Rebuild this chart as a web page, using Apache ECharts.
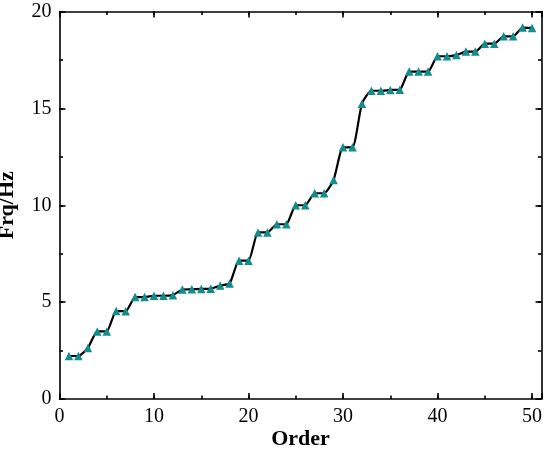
<!DOCTYPE html>
<html><head><meta charset="utf-8">
<script src="https://cdn.jsdelivr.net/npm/echarts@6/dist/echarts.min.js"></script>
<style>html,body{margin:0;padding:0;background:#fff}#c{width:550px;height:452px}</style>
</head><body><div id="c"></div>
<script>
const orders = [1,2,3,4,5,6,7,8,9,10,11,12,13,14,15,16,17,18,19,20,21,22,23,24,25,26,27,28,29,30,31,32,33,34,35,36,37,38,39,40,41,42,43,44,45,46,47,48,49,50];
const freqs = [2.22,2.22,2.63,3.49,3.49,4.54,4.53,5.26,5.26,5.33,5.33,5.36,5.65,5.66,5.68,5.69,5.86,5.96,7.14,7.14,8.60,8.60,9.02,9.02,10.0,10.0,10.62,10.62,11.3,12.99,12.99,15.24,15.91,15.91,15.95,15.96,16.9,16.9,16.9,17.69,17.69,17.75,17.93,17.93,18.34,18.34,18.72,18.72,19.17,19.15];
const xTickLabels = [0,10,20,30,40,50];
const yTickLabels = [0,5,10,15,20];

const font = 'Liberation Serif';
const gridBox = {left: 59.5, right: 8.5, top: 11.5, bottom: 53, containLabel: false, outerBoundsMode: 'none'};
const lineStyle = {color: '#000', width: 1.6};
function xAx(gi, pos, interval, len, withLabels, showLine) {
  return {
    type: 'value', gridIndex: gi, position: pos, min: 0, max: 51, interval: interval,
    axisLine: {show: showLine, onZero: false, lineStyle: lineStyle},
    axisTick: {show: true, inside: true, length: len, lineStyle: lineStyle},
    splitLine: {show: false},
    axisLabel: {show: withLabels, color: '#000', fontFamily: font, fontSize: 20, margin: 8,
      formatter: v => xTickLabels.indexOf(v) >= 0 ? String(v) : ''},
    name: withLabels ? 'Order' : '', nameLocation: 'middle', nameGap: 29, nameMoveOverlap: false,
    nameTextStyle: {color: '#000', fontFamily: font, fontSize: 22, fontWeight: 'bold'}
  };
}
function yAx(gi, pos, interval, len, withLabels, showLine) {
  return {
    type: 'value', gridIndex: gi, position: pos, min: 0, max: 20, interval: interval,
    axisLine: {show: showLine, onZero: false, lineStyle: lineStyle},
    axisTick: {show: true, inside: true, length: len, lineStyle: lineStyle},
    splitLine: {show: false},
    axisLabel: {show: withLabels, color: '#000', fontFamily: font, fontSize: 20, margin: 8,
      formatter: v => yTickLabels.indexOf(v) >= 0 ? String(v) : ''},
    name: withLabels ? 'Frq/Hz' : '', nameLocation: 'middle', nameGap: 41, nameMoveOverlap: false,
    nameTextStyle: {color: '#000', fontFamily: font, fontSize: 22, fontWeight: 'bold'}
  };
}
const chart = echarts.init(document.getElementById('c'), null, {renderer: 'canvas'});
chart.setOption({
  animation: false,
  backgroundColor: '#fff',
  grid: [Object.assign({}, gridBox), Object.assign({}, gridBox)],
  xAxis: [
    xAx(0, 'bottom', 10, 6, true, true),
    xAx(0, 'top', 10, 6, false, true),
    xAx(1, 'bottom', 5, 3.5, false, false),
    xAx(1, 'top', 5, 3.5, false, false)
  ],
  yAxis: [
    yAx(0, 'left', 5, 6, true, true),
    yAx(0, 'right', 5, 6, false, true),
    yAx(1, 'left', 2.5, 3.5, false, false),
    yAx(1, 'right', 2.5, 3.5, false, false)
  ],
  series: [{
    type: 'line', xAxisIndex: 0, yAxisIndex: 0,
    data: orders.map((o, i) => [o, freqs[i]]),
    smooth: 0.18,
    lineStyle: {color: '#000', width: 2.2},
    symbol: 'triangle', symbolSize: 8.5,
    itemStyle: {color: '#128c8c'}
  }]
});
</script></body></html>
